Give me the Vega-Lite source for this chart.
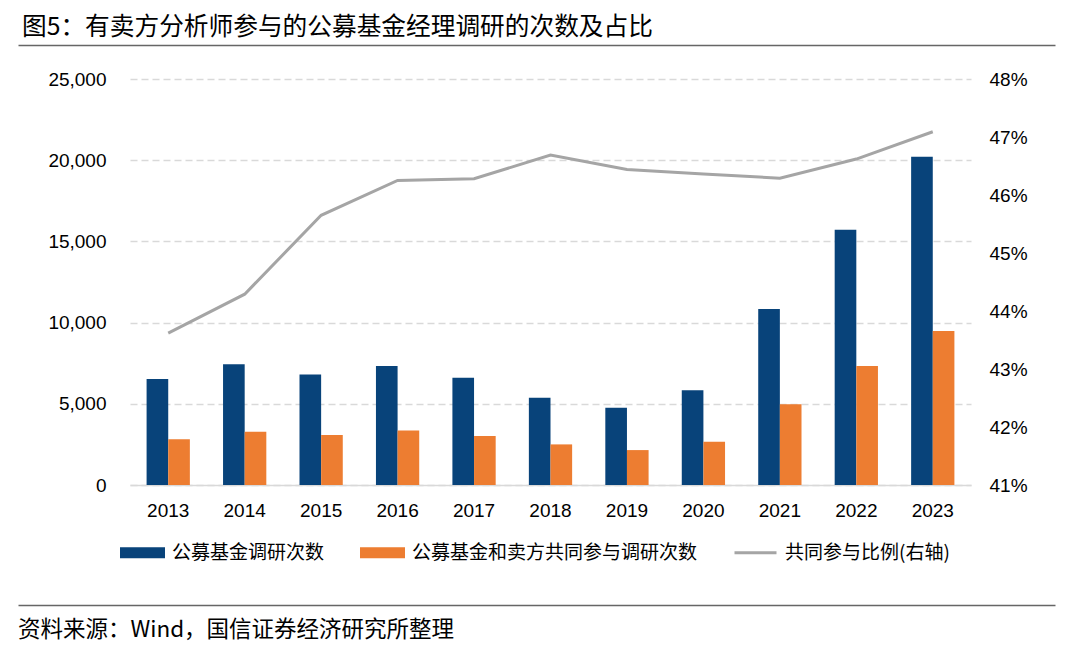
{
  "$schema": "https://vega.github.io/schema/vega-lite/v6.json",
  "background": "white",
  "padding": {"left": 18, "top": 15, "right": 0, "bottom": 0},
  "title": {"text": "图5：有卖方分析师参与的公募基金经理调研的次数及占比", "anchor": "start", "font": "Noto Sans CJK SC", "fontSize": 24.7, "fontWeight": "normal", "color": "#000000", "offset": 5, "dx": 4},
  "columns": 1,
  "spacing": 24,
  "concat": [
    {
      "width": 925,
      "height": 1,
      "data": {"values": []},
      "mark": "text",
      "encoding": {
        "x": {"field": "v", "type": "quantitative", "scale": {"domain": [0, 1], "range": [-112, 925]},
          "axis": {"orient": "top", "title": null, "labels": false, "ticks": false, "grid": false, "domainColor": "#666666", "domainWidth": 1.5}}
      }
    },
    {
      "width": 841,
      "height": 406,
      "data": {"values": [
        {"year": "2013", "series": "公募基金调研次数", "count": 6530},
        {"year": "2014", "series": "公募基金调研次数", "count": 7430},
        {"year": "2015", "series": "公募基金调研次数", "count": 6810},
        {"year": "2016", "series": "公募基金调研次数", "count": 7330},
        {"year": "2017", "series": "公募基金调研次数", "count": 6610},
        {"year": "2018", "series": "公募基金调研次数", "count": 5380},
        {"year": "2019", "series": "公募基金调研次数", "count": 4760},
        {"year": "2020", "series": "公募基金调研次数", "count": 5830},
        {"year": "2021", "series": "公募基金调研次数", "count": 10840},
        {"year": "2022", "series": "公募基金调研次数", "count": 15720},
        {"year": "2023", "series": "公募基金调研次数", "count": 20220},
        {"year": "2013", "series": "公募基金和卖方共同参与调研次数", "count": 2810},
        {"year": "2014", "series": "公募基金和卖方共同参与调研次数", "count": 3280},
        {"year": "2015", "series": "公募基金和卖方共同参与调研次数", "count": 3080},
        {"year": "2016", "series": "公募基金和卖方共同参与调研次数", "count": 3350},
        {"year": "2017", "series": "公募基金和卖方共同参与调研次数", "count": 3020},
        {"year": "2018", "series": "公募基金和卖方共同参与调研次数", "count": 2500},
        {"year": "2019", "series": "公募基金和卖方共同参与调研次数", "count": 2150},
        {"year": "2020", "series": "公募基金和卖方共同参与调研次数", "count": 2670},
        {"year": "2021", "series": "公募基金和卖方共同参与调研次数", "count": 4970},
        {"year": "2022", "series": "公募基金和卖方共同参与调研次数", "count": 7330},
        {"year": "2023", "series": "公募基金和卖方共同参与调研次数", "count": 9480},
        {"year": "2013", "series": "共同参与比例(右轴)", "ratio": 0.4362},
        {"year": "2014", "series": "共同参与比例(右轴)", "ratio": 0.4429},
        {"year": "2015", "series": "共同参与比例(右轴)", "ratio": 0.4565},
        {"year": "2016", "series": "共同参与比例(右轴)", "ratio": 0.4625},
        {"year": "2017", "series": "共同参与比例(右轴)", "ratio": 0.4628},
        {"year": "2018", "series": "共同参与比例(右轴)", "ratio": 0.4669},
        {"year": "2019", "series": "共同参与比例(右轴)", "ratio": 0.4644},
        {"year": "2020", "series": "共同参与比例(右轴)", "ratio": 0.4636},
        {"year": "2021", "series": "共同参与比例(右轴)", "ratio": 0.4629},
        {"year": "2022", "series": "共同参与比例(右轴)", "ratio": 0.4662},
        {"year": "2023", "series": "共同参与比例(右轴)", "ratio": 0.4709}
      ]},
      "layer": [
        {
          "transform": [{"filter": "isValid(datum.count)"}],
          "mark": {"type": "bar"},
          "encoding": {
            "x": {"field": "year", "type": "nominal", "scale": {"paddingInner": 0.434, "paddingOuter": 0.217},
              "axis": {"title": null, "labelAngle": 0, "labelFontSize": 19, "labelColor": "#000000", "labelPadding": 16, "ticks": false, "tickSize": 0, "domainColor": "#d9d9d9", "domainWidth": 1.5, "grid": false}},
            "xOffset": {"field": "series", "type": "nominal", "scale": {"domain": ["公募基金调研次数", "公募基金和卖方共同参与调研次数"]}},
            "y": {"field": "count", "type": "quantitative", "scale": {"domain": [0, 25000], "nice": false},
              "axis": {"title": null, "values": [0, 5000, 10000, 15000, 20000, 25000], "format": ",.0f", "labelFontSize": 19, "labelColor": "#000000", "labelPadding": 24, "domain": false, "ticks": false, "tickSize": 0, "grid": true, "gridColor": "#d9d9d9", "gridDash": [7, 4], "gridWidth": 1.3}},
            "color": {"field": "series", "type": "nominal",
              "scale": {"domain": ["公募基金调研次数", "公募基金和卖方共同参与调研次数", "共同参与比例(右轴)"], "range": ["#08437a", "#ed7d31", "#a5a5a5"]},
              "legend": {"title": null, "orient": "none", "legendX": -18, "legendY": 477, "direction": "horizontal", "symbolSize": 1764, "labelFont": "Noto Sans CJK SC", "labelFontSize": 19, "labelColor": "#000000", "labelLimit": 600, "labelOffset": 7, "columnPadding": 30, "padding": 8,
                "encode": {"symbols": {"update": {
                  "shape": {"signal": "datum.value === '共同参与比例(右轴)' ? 'M-1,0H1' : 'M-1,-0.19H1V0.19H-1Z'"},
                  "fill": {"signal": "datum.value === '共同参与比例(右轴)' ? 'transparent' : (datum.value === '公募基金调研次数' ? '#08437a' : '#ed7d31')"},
                  "stroke": {"signal": "datum.value === '共同参与比例(右轴)' ? '#a5a5a5' : 'transparent'"},
                  "strokeWidth": {"value": 3},
                  "opacity": {"value": 1}
                }}}}
            }
          }
        },
        {
          "transform": [{"filter": "isValid(datum.ratio)"}],
          "mark": {"type": "line", "strokeWidth": 3},
          "encoding": {
            "x": {"field": "year", "type": "nominal"},
            "y": {"field": "ratio", "type": "quantitative", "scale": {"domain": [0.41, 0.48], "nice": false, "zero": false},
              "axis": {"orient": "right", "title": null, "values": [0.41, 0.42, 0.43, 0.44, 0.45, 0.46, 0.47, 0.48], "format": ".0%", "labelFontSize": 19, "labelColor": "#000000", "labelPadding": 18, "domain": false, "ticks": false, "tickSize": 0, "grid": false}},
            "color": {"field": "series", "type": "nominal"}
          }
        }
      ],
      "resolve": {"scale": {"y": "independent"}, "axis": {"y": "independent"}}
    },
    {
      "width": 925,
      "height": 61,
      "title": {"text": "资料来源：Wind，国信证券经济研究所整理", "orient": "bottom", "anchor": "start", "font": "Noto Sans CJK SC", "fontSize": 22.5, "fontWeight": "normal", "color": "#000000", "offset": 14, "dx": -112},
      "data": {"values": []},
      "mark": "text",
      "encoding": {
        "x": {"field": "v", "type": "quantitative", "scale": {"domain": [0, 1], "range": [-112, 925]},
          "axis": {"orient": "bottom", "title": null, "labels": false, "ticks": false, "grid": false, "domainColor": "#666666", "domainWidth": 1.5}}
      }
    }
  ],
  "config": {"view": {"stroke": null}, "font": "Liberation Sans"}
}
